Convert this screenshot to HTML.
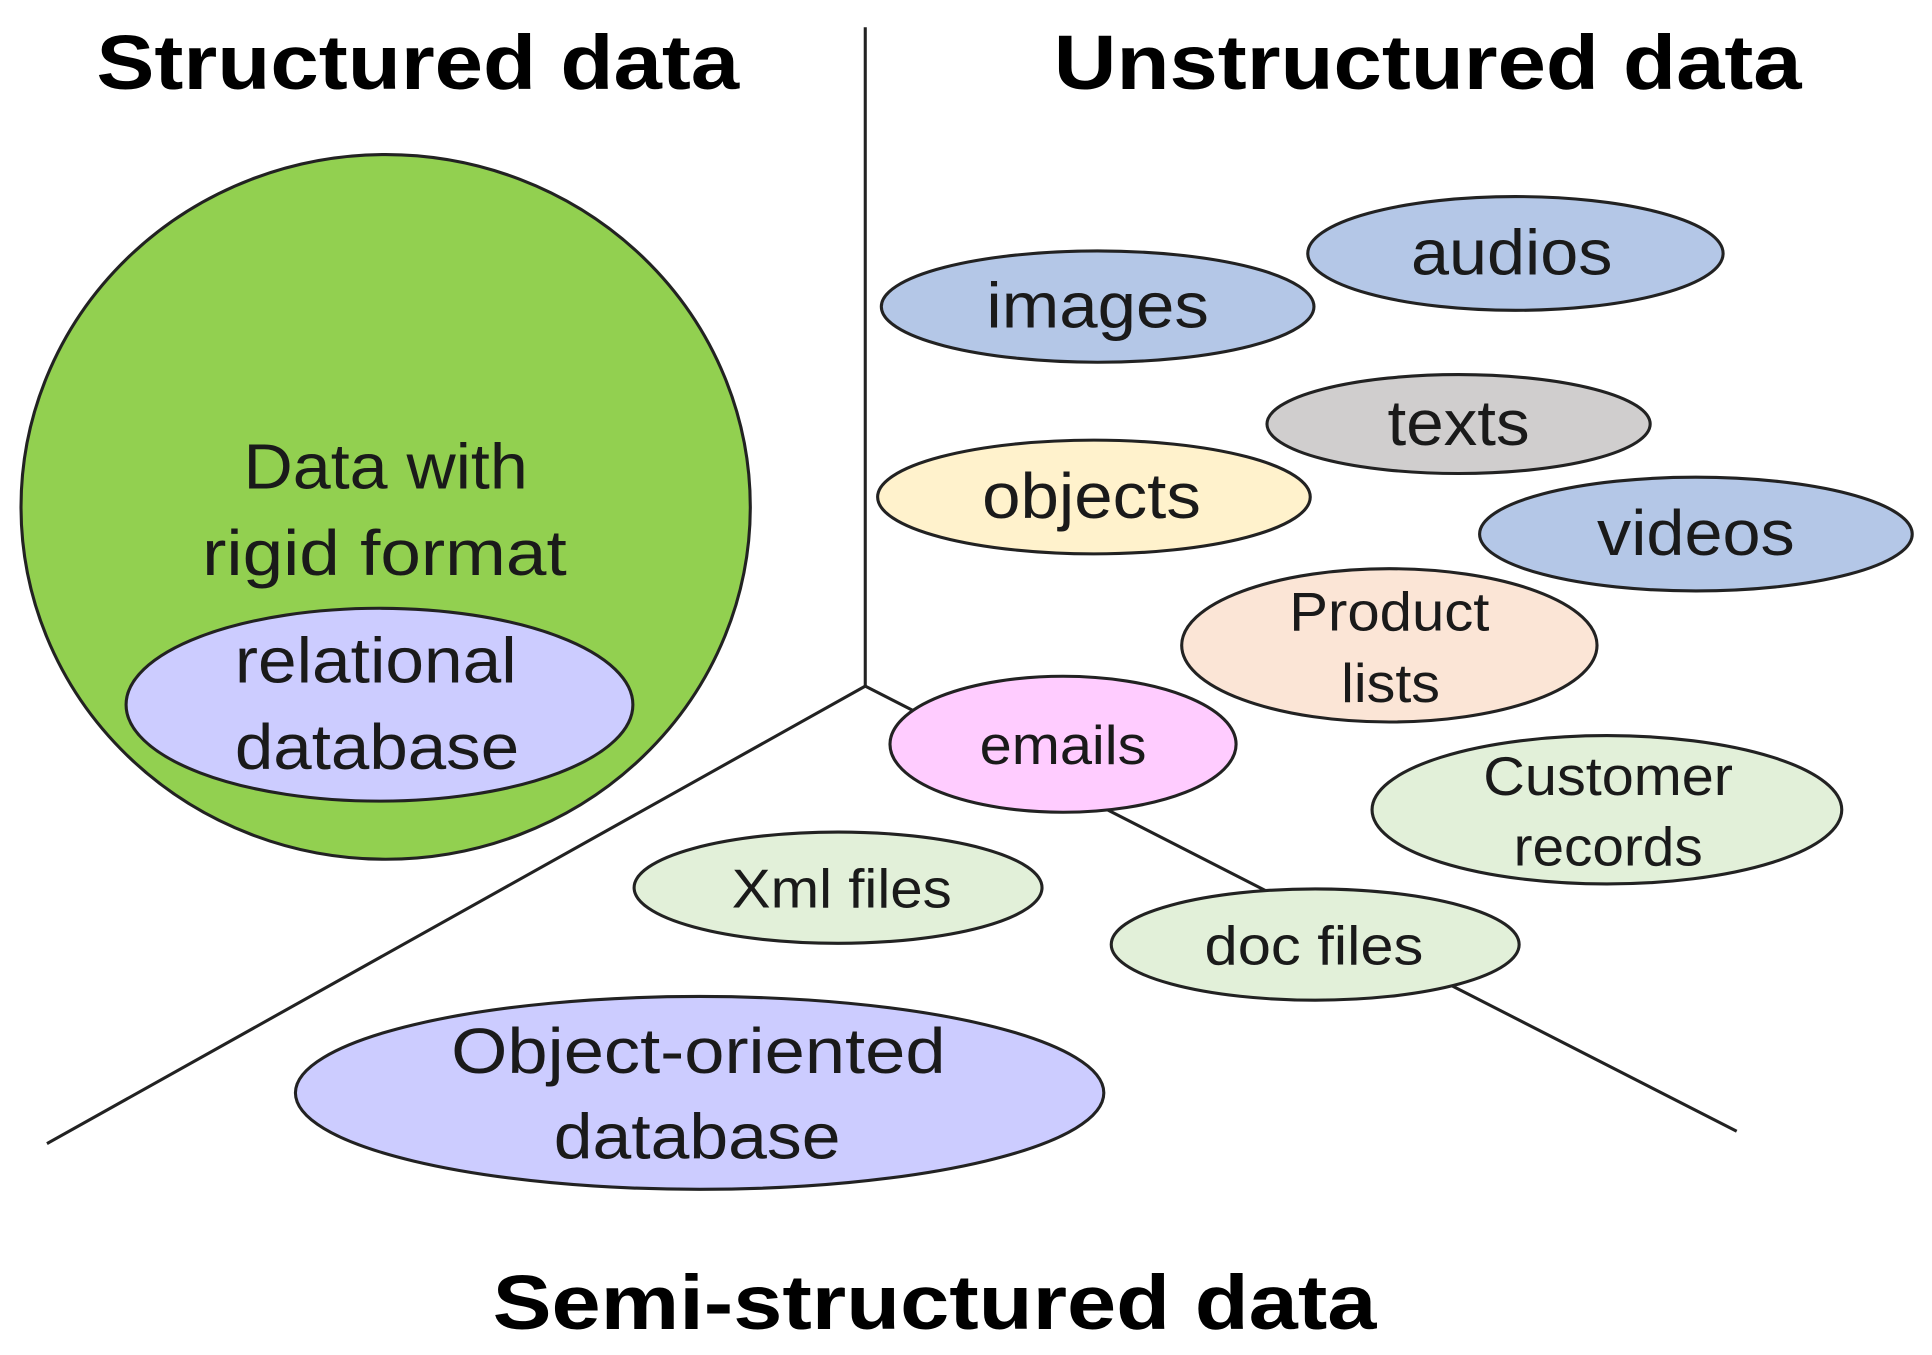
<!DOCTYPE html>
<html><head><meta charset="utf-8"><style>
html,body{margin:0;padding:0;background:#fff;}
svg{display:block;}
text{font-family:"Liberation Sans","DejaVu Sans",sans-serif;fill:#1a1a1a;text-anchor:middle;}
.t{font-weight:bold;font-size:62px;fill:#000;}
.e{stroke:#222;stroke-width:2.5;}
</style></head><body>
<svg width="1932" height="1355" viewBox="0 0 1563 1096" preserveAspectRatio="none">
<rect width="1563" height="1096" fill="#fff"/>
<text class="t" x="338" y="72" textLength="520" lengthAdjust="spacingAndGlyphs">Structured data</text>
<text class="t" x="1155" y="72" textLength="605" lengthAdjust="spacingAndGlyphs">Unstructured data</text>
<text class="t" x="756" y="1075" textLength="715" lengthAdjust="spacingAndGlyphs">Semi-structured data</text>
<g stroke="#222" stroke-width="2.5" fill="none">
<line x1="700" y1="22" x2="700" y2="555"/>
<line x1="700" y1="555" x2="38" y2="925"/>
<line x1="700" y1="555" x2="1405" y2="915"/>
</g>
<ellipse class="e" cx="312" cy="410" rx="295" ry="285" fill="#92d050"/>
<text x="312" y="395" font-size="52" textLength="230" lengthAdjust="spacingAndGlyphs">Data with</text>
<text x="311" y="465" font-size="52" textLength="295" lengthAdjust="spacingAndGlyphs">rigid format</text>
<ellipse class="e" cx="307" cy="570" rx="205" ry="78" fill="#ccccff"/>
<text x="304" y="552" font-size="52" textLength="228" lengthAdjust="spacingAndGlyphs">relational</text>
<text x="305" y="622" font-size="52" textLength="230" lengthAdjust="spacingAndGlyphs">database</text>

<ellipse class="e" cx="888" cy="248" rx="175" ry="45" fill="#b4c7e7"/>
<text x="888" y="265" font-size="52" textLength="180" lengthAdjust="spacingAndGlyphs">images</text>
<ellipse class="e" cx="1226" cy="205" rx="168" ry="46" fill="#b4c7e7"/>
<text x="1223" y="222" font-size="52" textLength="163" lengthAdjust="spacingAndGlyphs">audios</text>
<ellipse class="e" cx="1180" cy="343" rx="155" ry="40" fill="#d0cece"/>
<text x="1180" y="360" font-size="52" textLength="115" lengthAdjust="spacingAndGlyphs">texts</text>
<ellipse class="e" cx="885" cy="402" rx="175" ry="46" fill="#fff2cc"/>
<text x="883" y="419" font-size="52" textLength="177" lengthAdjust="spacingAndGlyphs">objects</text>
<ellipse class="e" cx="1372" cy="432" rx="175" ry="46" fill="#b4c7e7"/>
<text x="1372" y="449" font-size="52" textLength="160" lengthAdjust="spacingAndGlyphs">videos</text>
<ellipse class="e" cx="1124" cy="522" rx="168" ry="62" fill="#fbe5d6"/>
<text x="1124" y="510" font-size="44" textLength="162" lengthAdjust="spacingAndGlyphs">Product</text>
<text x="1125" y="568" font-size="44" textLength="80" lengthAdjust="spacingAndGlyphs">lists</text>
<ellipse class="e" cx="860" cy="602" rx="140" ry="55" fill="#ffccff"/>
<text x="860" y="618" font-size="44" textLength="135" lengthAdjust="spacingAndGlyphs">emails</text>
<ellipse class="e" cx="1300" cy="655" rx="190" ry="60" fill="#e2f0d9"/>
<text x="1301" y="643" font-size="44" textLength="202" lengthAdjust="spacingAndGlyphs">Customer</text>
<text x="1301" y="700" font-size="44" textLength="153" lengthAdjust="spacingAndGlyphs">records</text>
<ellipse class="e" cx="678" cy="718" rx="165" ry="45" fill="#e2f0d9"/>
<text x="681" y="734" font-size="44" textLength="178" lengthAdjust="spacingAndGlyphs">Xml files</text>
<ellipse class="e" cx="1064" cy="764" rx="165" ry="45" fill="#e2f0d9"/>
<text x="1063" y="780" font-size="44" textLength="177" lengthAdjust="spacingAndGlyphs">doc files</text>
<ellipse class="e" cx="566" cy="884" rx="327" ry="78" fill="#ccccff"/>
<text x="565" y="868" font-size="52" textLength="400" lengthAdjust="spacingAndGlyphs">Object-oriented</text>
<text x="564" y="937" font-size="52" textLength="232" lengthAdjust="spacingAndGlyphs">database</text>
</svg>
</body></html>
